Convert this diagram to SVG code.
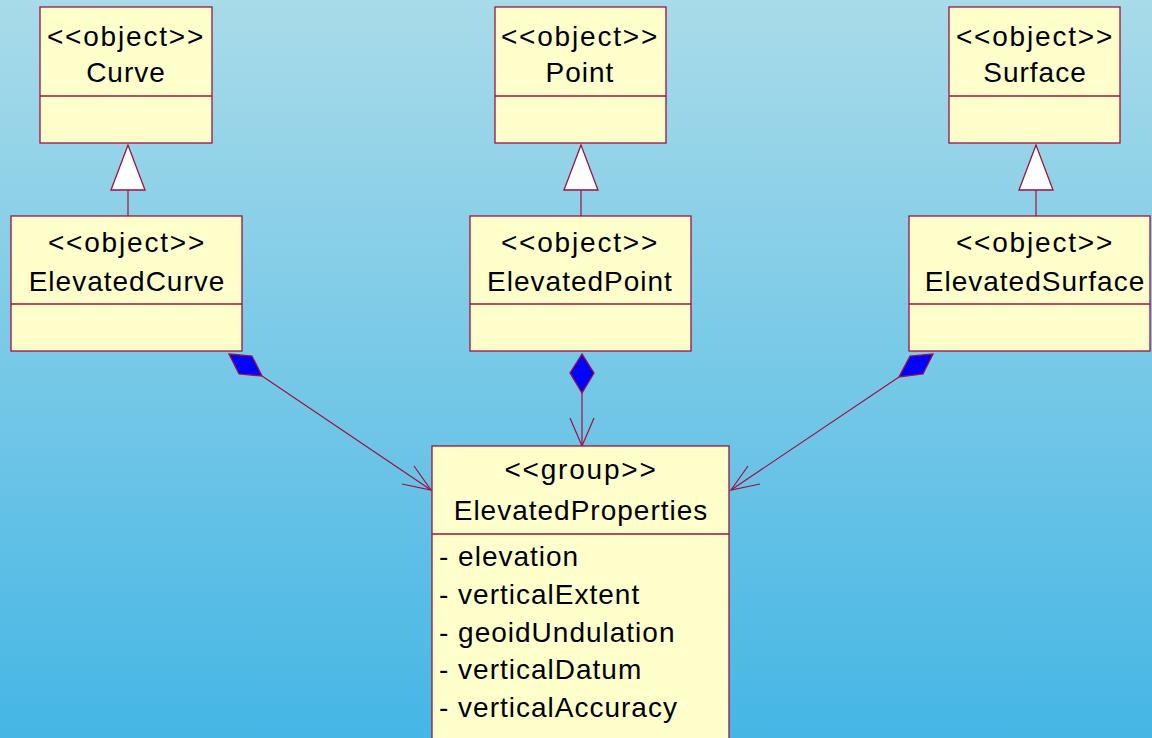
<svg xmlns="http://www.w3.org/2000/svg" width="1152" height="738" viewBox="0 0 1152 738">
<defs>
<linearGradient id="bg" x1="0" y1="0" x2="0" y2="1">
<stop offset="0" stop-color="#a9dbe9"/>
<stop offset="1" stop-color="#45b6e5"/>
</linearGradient>
</defs>
<style>
.box{fill:#ffffcc;stroke:#a0103f;stroke-width:1.3}
.div{stroke:#a0103f;stroke-width:1.3}
.t{font-family:"Liberation Sans",Arial,sans-serif;font-size:28px;fill:#000;letter-spacing:1px}
.s{letter-spacing:1.8px}
.c{text-anchor:middle}
.ln{stroke:#a0103f;stroke-width:1.2;fill:none}
.tri{fill:#ffffff;stroke:#a0103f;stroke-width:1.3}
.dia{fill:#0000ff;stroke:#a0103f;stroke-width:1.3}
</style>
<rect width="1152" height="738" fill="url(#bg)"/>

<g id="connectors">
<line class="ln" x1="128" y1="190" x2="128" y2="216"/>
<polygon class="tri" points="128,145 111,190 145,190"/>
<line class="ln" x1="581" y1="190" x2="581" y2="216"/>
<polygon class="tri" points="581,145 564,190 598,190"/>
<line class="ln" x1="1036" y1="190" x2="1036" y2="216"/>
<polygon class="tri" points="1036,145 1019,190 1053,190"/>

<line class="ln" x1="262" y1="376" x2="431" y2="490"/>
<polyline class="ln" points="414,466 431,490 402,484"/>
<polygon class="dia" points="229,354 252,356 262,376 239,374"/>

<line class="ln" x1="582" y1="393" x2="582" y2="446"/>
<polyline class="ln" points="570,418 582,446 594,418"/>
<polygon class="dia" points="582,354 570,373 582,393 594,373"/>

<line class="ln" x1="899" y1="377" x2="731" y2="490"/>
<polyline class="ln" points="748,466 731,490 760,484"/>
<polygon class="dia" points="933,354 923,374 899,377 910,356"/>
</g>

<g id="curve">
<rect class="box" x="40" y="7" width="172" height="136"/>
<line class="div" x1="40" y1="96" x2="212" y2="96"/>
<text class="t s c" x="126" y="46">&lt;&lt;object&gt;&gt;</text>
<text class="t c" x="126" y="82">Curve</text>
</g>

<g id="point">
<rect class="box" x="495" y="7" width="171" height="136"/>
<line class="div" x1="495" y1="96" x2="666" y2="96"/>
<text class="t s c" x="580" y="46">&lt;&lt;object&gt;&gt;</text>
<text class="t c" x="580" y="82">Point</text>
</g>

<g id="surface">
<rect class="box" x="949" y="7" width="171" height="136"/>
<line class="div" x1="949" y1="96" x2="1120" y2="96"/>
<text class="t s c" x="1035" y="46">&lt;&lt;object&gt;&gt;</text>
<text class="t c" x="1035" y="82">Surface</text>
</g>

<g id="elevatedCurve">
<rect class="box" x="11" y="216" width="231" height="135"/>
<line class="div" x1="11" y1="304" x2="242" y2="304"/>
<text class="t s c" x="127" y="252">&lt;&lt;object&gt;&gt;</text>
<text class="t c" x="127" y="291">ElevatedCurve</text>
</g>

<g id="elevatedPoint">
<rect class="box" x="470" y="216" width="221" height="135"/>
<line class="div" x1="470" y1="304" x2="691" y2="304"/>
<text class="t s c" x="580" y="252">&lt;&lt;object&gt;&gt;</text>
<text class="t c" x="580" y="291">ElevatedPoint</text>
</g>

<g id="elevatedSurface">
<rect class="box" x="909" y="216" width="241" height="135"/>
<line class="div" x1="909" y1="304" x2="1150" y2="304"/>
<text class="t s c" x="1035" y="252">&lt;&lt;object&gt;&gt;</text>
<text class="t c" x="1035" y="291">ElevatedSurface</text>
</g>

<g id="elevatedProperties">
<rect class="box" x="432" y="446" width="297" height="300"/>
<line class="div" x1="432" y1="534" x2="729" y2="534"/>
<text class="t s c" x="581" y="479">&lt;&lt;group&gt;&gt;</text>
<text class="t c" x="581" y="520">ElevatedProperties</text>
<text class="t" x="439" y="566">- elevation</text>
<text class="t" x="439" y="604">- verticalExtent</text>
<text class="t" x="439" y="642">- geoidUndulation</text>
<text class="t" x="439" y="679">- verticalDatum</text>
<text class="t" x="439" y="717">- verticalAccuracy</text>
</g>
</svg>
